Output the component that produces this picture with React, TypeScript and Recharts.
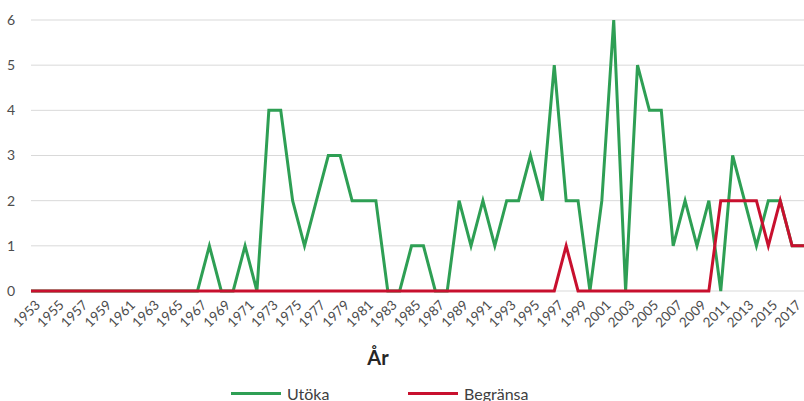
import React from "react";
import { LineChart, Line, XAxis, YAxis, CartesianGrid } from "recharts";

const FONT = "Lato, 'Open Sans', sans-serif";

const years = [
  "1953", "1954", "1955", "1956", "1957", "1958", "1959", "1960", "1961", "1962", "1963",
  "1964", "1965", "1966", "1967", "1968", "1969", "1970", "1971", "1972", "1973", "1974",
  "1975", "1976", "1977", "1978", "1979", "1980", "1981", "1982", "1983", "1984", "1985",
  "1986", "1987", "1988", "1989", "1990", "1991", "1992", "1993", "1994", "1995", "1996",
  "1997", "1998", "1999", "2000", "2001", "2002", "2003", "2004", "2005", "2006", "2007",
  "2008", "2009", "2010", "2011", "2012", "2013", "2014", "2015", "2016", "2017", "2018",
];

// 1953–2018
const utoka = [
  0, 0, 0, 0, 0, 0, 0, 0, 0, 0, 0,
  0, 0, 0, 0, 1, 0, 0, 1, 0, 4, 4,
  2, 1, 2, 3, 3, 2, 2, 2, 0, 0, 1,
  1, 0, 0, 2, 1, 2, 1, 2, 2, 3, 2,
  5, 2, 2, 0, 2, 6, 0, 5, 4, 4, 1,
  2, 1, 2, 0, 3, 2, 1, 2, 2, 1, 1,
];

const begransa = [
  0, 0, 0, 0, 0, 0, 0, 0, 0, 0, 0,
  0, 0, 0, 0, 0, 0, 0, 0, 0, 0, 0,
  0, 0, 0, 0, 0, 0, 0, 0, 0, 0, 0,
  0, 0, 0, 0, 0, 0, 0, 0, 0, 0, 0,
  0, 1, 0, 0, 0, 0, 0, 0, 0, 0, 0,
  0, 0, 0, 2, 2, 2, 2, 1, 2, 1, 1,
];

const yTicks = [0, 1, 2, 3, 4, 5, 6];

const GREEN = "#2e9f54";
const RED = "#c8102e";

const data = years.map((year, i) => ({
  year,
  Utöka: utoka[i],
  Begränsa: begransa[i],
}));

const YearTick = (props: any) => {
  const { x, y, payload } = props;
  return (
    <g transform={`translate(${x + 10},${y + 15})`}>
      <text textAnchor="end" transform="rotate(-45)" fill="#4d4d4d" fontSize={13.5} fontFamily={FONT}>
        {payload.value}
      </text>
    </g>
  );
};

const legendItems = [
  { name: "Utöka", color: GREEN, left: 231 },
  { name: "Begränsa", color: RED, left: 408 },
];

export default function App() {
  return (
    <div style={{ position: "absolute", left: 0, top: 0, width: 804, height: 401, background: "#fff", fontFamily: FONT }}>
      <LineChart width={804} height={401} data={data} margin={{ top: 20, right: 0, bottom: 0, left: 0 }}>
        <CartesianGrid vertical={false} stroke="#d9d9d9" />
        <XAxis
          dataKey="year"
          height={110}
          interval={1}
          tickLine={false}
          tickSize={0}
          tickMargin={0}
          axisLine={false}
          tick={<YearTick />}
        />
        <YAxis
          width={31}
          domain={[0, 6]}
          ticks={yTicks}
          axisLine={false}
          tickLine={false}
          tickSize={0}
          tickMargin={16}
          tick={{ fill: "#4d4d4d", fontSize: 14, fontFamily: FONT }}
        />
        <Line dataKey="Utöka" stroke={GREEN} strokeWidth={3} dot={false} isAnimationActive={false} />
        <Line dataKey="Begränsa" stroke={RED} strokeWidth={3} dot={false} isAnimationActive={false} />
      </LineChart>

      {/* axis title */}
      <div
        style={{
          position: "absolute",
          left: 328,
          width: 100,
          top: 345,
          textAlign: "center",
          fontSize: 20,
          fontWeight: "bold",
          color: "#262626",
        }}
      >
        År
      </div>

      {/* legend */}
      {legendItems.map((item) => (
        <div
          key={item.name}
          style={{ position: "absolute", left: item.left, top: 383, height: 20, display: "flex", alignItems: "center" }}
        >
          <span style={{ display: "inline-block", width: 50, height: 3, background: item.color, marginRight: 6 }} />
          <span style={{ fontSize: 16, color: "#404040" }}>{item.name}</span>
        </div>
      ))}
    </div>
  );
}
